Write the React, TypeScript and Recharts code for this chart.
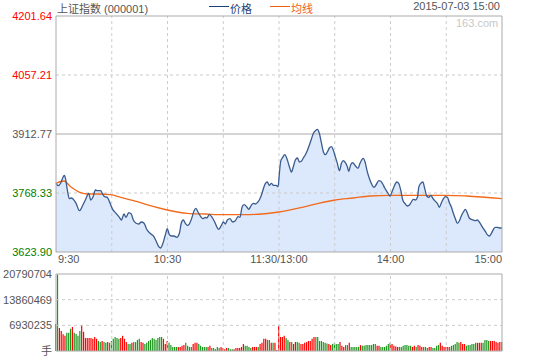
import React from 'react'
import {
  ComposedChart, Area, Line, XAxis, YAxis, ReferenceLine, BarChart, Bar, Cell,
} from 'recharts'

// minutes since 9:30 (lunch break removed, 0..240)
const priceT = [
  0, 1.1, 2.5, 3.9, 4.5, 5.2, 6.1, 7.2, 8.2, 9.3, 10.8, 12.6, 14.4, 16.1, 17.6, 18.7, 20.1, 21.2, 22.3, 24.0,
  25.1, 26.2, 27.6, 29.1, 30.5, 32.3, 34.1, 35.2, 36.6, 37.7, 39.1, 40.5, 41.6, 43.1, 44.5, 45.9, 47.4, 48.8, 50.6, 52.4,
  53.8, 55.3, 56.3, 57.4, 58.8, 59.9, 61.0, 62.1, 63.5, 65.0, 66.4, 67.4, 68.5, 69.6, 70.7, 71.7, 73.2, 74.3, 75.3, 76.4,
  77.9, 79.0, 80.4,
  81.1, 82.5, 84.0, 85.4, 86.5, 87.6, 89.0, 90.1, 91.1, 92.2, 93.6, 95.1, 96.5, 98.0, 99.0, 100.1, 101.2, 102.6, 103.7, 105.1,
  106.2, 107.3, 108.3, 109.4, 110.5, 111.6, 112.7, 113.7, 114.8, 115.9, 117.0, 118.4, 119.5, 120.2, 120.9, 122.0, 123.1, 124.5, 125.6, 126.7,
  127.7, 128.8, 129.9, 131.0, 132.0, 133.1, 134.2, 135.2, 136.3, 137.4, 138.5, 139.6, 140.6, 141.7, 142.8, 143.9, 144.9, 146.0, 147.1, 148.2,
  149.2, 150.3, 151.4, 152.5, 153.6, 154.6, 155.7, 156.8, 157.5, 158.6, 159.7,
  160.4, 161.5, 162.5, 163.6, 164.7, 165.4, 166.5, 167.5, 168.6, 170.1, 171.2, 172.2, 173.7, 174.8, 175.8, 176.9, 178.0, 179.1, 179.8, 180.8,
  181.9, 183.4, 184.4, 185.5, 186.6, 188.0, 189.1, 190.2, 191.2, 192.3, 193.4, 194.5, 195.2, 196.3, 197.4, 198.4, 199.5, 200.6, 201.7, 202.7,
  203.8, 205.2, 206.3, 207.4, 208.5, 209.5, 210.6, 211.7, 212.8, 213.8, 214.9, 216.0, 217.1, 218.1, 219.2, 220.3, 221.4, 222.4, 223.5, 224.6,
  225.7, 226.7, 227.8, 228.9, 230.0, 231.0, 232.1, 233.2, 234.3, 235.4, 236.4, 237.5, 238.6, 240,
]
const price = [
  3792.1, 3786.2, 3792.1, 3808.2, 3811.7, 3801.9, 3775.7, 3754.4, 3756.1, 3752.9, 3743.1, 3725.0, 3738.2, 3754.4, 3767.6, 3751.2, 3761.0, 3775.7, 3774.0, 3774.0,
  3765.9, 3759.3, 3757.8, 3743.1, 3728.4, 3718.6, 3708.8, 3702.2, 3716.9, 3708.8, 3720.1, 3716.9, 3702.2, 3694.2, 3692.4, 3697.3, 3694.2, 3679.5, 3669.7, 3663.1,
  3651.6, 3637.0, 3633.7, 3643.5, 3664.8, 3680.9, 3666.3, 3663.1, 3663.1, 3659.9, 3669.7, 3694.2, 3702.2, 3694.2, 3689.2, 3692.4, 3708.8, 3725.0, 3730.9, 3721.8,
  3710.3, 3705.4, 3708.8,
  3707.1, 3715.2, 3708.8, 3697.3, 3685.8, 3679.5, 3689.2, 3697.3, 3692.4, 3702.2, 3705.4, 3697.3, 3700.5, 3710.3, 3708.8, 3733.3, 3739.7, 3734.8, 3728.4, 3738.2,
  3743.1, 3741.4, 3744.6, 3751.2, 3762.7, 3778.9, 3792.1, 3795.3, 3787.2, 3792.1, 3787.2, 3787.2, 3783.7, 3816.5, 3845.9, 3855.7, 3862.1, 3849.1, 3832.7, 3819.7,
  3832.7, 3849.1, 3854.0, 3844.2, 3845.9, 3854.0, 3862.1, 3871.9, 3885.1, 3899.8, 3914.5, 3920.9, 3924.3, 3914.5, 3891.5, 3868.7, 3862.1, 3868.7, 3878.5, 3881.7,
  3873.6, 3857.2, 3841.0, 3822.9, 3841.0, 3847.4, 3842.5, 3832.7, 3821.4, 3837.6, 3842.5,
  3839.3, 3832.7, 3828.8, 3841.0, 3850.8, 3853.3, 3841.0, 3820.5, 3804.3, 3787.9, 3782.3, 3787.9, 3798.4, 3797.0, 3790.4, 3780.6, 3772.5, 3764.2, 3761.0, 3771.5,
  3783.7, 3795.3, 3792.1, 3775.7, 3751.2, 3741.4, 3736.5, 3738.9, 3746.3, 3752.9, 3751.2, 3757.8, 3782.3, 3792.1, 3795.3, 3779.8, 3761.0, 3757.8, 3762.7, 3756.1,
  3749.5, 3743.1, 3733.3, 3744.6, 3754.4, 3759.3, 3757.8, 3744.6, 3733.3, 3718.6, 3705.4, 3694.2, 3700.5, 3712.0, 3721.8, 3728.4, 3718.6, 3707.1, 3703.9, 3702.2,
  3700.5, 3702.2, 3697.3, 3689.2, 3680.9, 3674.6, 3666.3, 3663.1, 3669.7, 3679.5, 3684.4, 3684.4, 3682.7, 3682.7,
]

const avgT = [0, 4.3, 7.9, 13.3, 16.9, 22.3, 29.4, 34.8, 43.8, 52.7, 59.9, 70.7, 80.4, 89.3, 100.1, 110.9, 119.9, 132.4, 141.4, 150.3, 160.0, 169.0, 179.8, 194.1, 210.3, 221.0, 240]
const avg = [3792.1, 3797.7, 3783.7, 3769.1, 3765.9, 3765.9, 3764.2, 3757.8, 3747.0, 3734.8, 3726.7, 3718.6, 3716.9, 3715.2, 3715.2, 3716.9, 3721.8, 3733.3, 3743.1, 3751.2, 3756.1, 3761.0, 3762.7, 3762.7, 3762.7, 3761.0, 3754.4]

// volume per minute, millions of 手
const vol = [
  7.3, 20.6, 6.2, 5.4, 4.5, 4.1, 4.9, 4.9, 6.0, 6.5, 4.9, 4.6, 4.1, 5.4, 7.05, 5.2, 3.5, 3.5, 3.5, 3.5,
  3.3, 3.8, 3.3, 2.7, 2.4, 2.7, 2.4, 2.2, 2.4, 2.2, 2.7, 3.3, 3.8, 3.5, 3.3, 3.5, 4.1, 3.3, 2.4, 1.9,
  1.9, 2.2, 2.4, 2.4, 3.0, 3.3, 2.4, 2.2, 1.9, 2.2, 2.7, 3.0, 3.5, 3.3, 3.0, 3.5, 3.8, 3.8, 3.3, 1.9,
  2.7, 2.2, 1.6, 1.1, 1.1, 1.1, 1.1, 1.1, 1.4, 1.6, 2.2, 1.4, 1.1, 1.1, 1.9, 2.2, 2.2, 1.9, 1.4, 1.1,
  1.1,
  1.1, 1.1, 1.4, 0.8, 0.8, 0.5, 1.1, 0.8, 1.1, 0.8, 0.5, 0.8, 0.8, 0.5, 0.5, 0.5, 0.8, 0.8, 0.8, 1.1,
  1.9, 1.4, 1.4, 1.1, 0.8, 1.1, 1.1, 1.1, 1.1, 1.9, 2.2, 3.3, 3.3, 3.0, 3.0, 2.2, 2.2, 2.2, 0.3, 7.05,
  3.8, 3.8, 4.1, 3.5, 3.0, 2.4, 2.4, 1.9, 2.4, 2.4, 2.2, 1.9, 1.9, 2.2, 2.4, 2.7, 2.7, 3.3, 3.8, 3.8,
  3.8, 2.7, 2.7, 2.4, 2.2, 2.0, 1.9, 1.6, 1.9, 2.2, 1.9, 1.9, 2.4, 1.4, 1.1, 1.6, 1.6, 2.2, 1.1,
  1.1, 1.1, 1.1, 1.1, 1.6, 1.4, 1.4, 1.6, 1.6, 1.6, 1.6, 1.9, 1.9, 1.4, 1.4, 1.1, 1.1, 1.1, 1.4, 1.9,
  2.2, 1.9, 1.4, 1.2, 1.1, 1.1, 1.1, 1.4, 1.6, 1.6, 1.4, 1.4, 1.1, 1.4, 1.1, 1.6, 1.4, 1.1, 1.1, 1.1,
  0.8, 1.1, 1.1, 0.8, 0.8, 1.4, 1.6, 2.2, 1.4, 1.1, 1.1, 1.1, 1.1, 1.4, 1.6, 1.9, 2.4, 2.2, 2.4, 1.9,
  1.9, 1.4, 1.6, 1.6, 1.9, 1.9, 2.2, 2.2, 2.2, 2.2, 2.2, 3.0, 3.0, 2.7, 2.7, 2.7, 2.7, 2.4, 2.2, 2.4,
  2.4,
]
// r = up minute, g = down minute
const volDir =
  'ggrrrrgggr' + 'ggggrrrrrr' + 'rrrggrggrg' + 'gggggrrrrg' + 'grggggrrgg' + 'ggggggggrr' + 'rgggggrrrr' + 'ggggrrrggg' + 'g' +
  'grrgggggrr' + 'rrgggrrrrr' + 'rggggrrrgr' + 'rrrggrgrrr' +
  'rrrggrgrrg' + 'grrrrrrrrg' + 'ggggggrrgg' + 'ggrrrggrg' +
  'ggggrggggg' + 'gggrrggggg' + 'rrrrrggggg' + 'ggrrgrrrgg' + 'grrggggrrr' + 'rrggggggrr' + 'rggggggrrr' + 'ggggrrrrrr' + 'g'

const priceTicks = [3623.90, 3768.33, 3912.77, 4057.21, 4201.64]
const pctLabels = ['7.38%', '3.69%', '0', '3.69%', '7.38%']
const tickColors = ['#008000', '#008000', '#555555', '#ff0000', '#ff0000']
const volTicks = [0, 6930235, 13860469, 20790704]
const volLabels = ['手', '6930235', '13860469', '20790704']
const timeTicks = [0, 60, 120, 180, 240]
const timeLabels = ['9:30', '10:30', '11:30/13:00', '14:00', '15:00']
const gridTimes = [30, 60, 90, 120, 150, 180, 210]

const FONT = '"Liberation Sans", Arial, "Noto Sans CJK SC", sans-serif'
const BORDER = '#aaaaaa'
const DASH = '#cccccc'

const buildPriceRows = () => {
  const rows = new Map<number, { t: number, price?: number, avg?: number }>()
  priceT.forEach((t, i) => rows.set(t, { ...(rows.get(t) || { t }), price: price[i] }))
  avgT.forEach((t, i) => rows.set(t, { ...(rows.get(t) || { t }), avg: avg[i] }))
  return Array.from(rows.values()).sort((a, b) => a.t - b.t)
}
const priceRows = buildPriceRows()
const volRows = vol.map((v, i) => ({ t: i, v: Math.round(v * 1e6) }))

const LeftTick = (props: any) => {
  const i = priceTicks.indexOf(props.payload.value)
  return (
    <text x={props.x} y={props.y} dy="0.35em" textAnchor="end" fontSize={11} fontFamily={FONT} fill={tickColors[i]}>
      {props.payload.value.toFixed(2)}
    </text>
  )
}
const RightTick = (props: any) => {
  const i = priceTicks.indexOf(props.payload.value)
  return (
    <text x={props.x} y={props.y} dy="0.35em" textAnchor="start" fontSize={11} fontFamily={FONT} fill={tickColors[i]}>
      {pctLabels[i]}
    </text>
  )
}
const TimeTick = (props: any) => {
  const i = timeTicks.indexOf(props.payload.value)
  const anchor = i === 0 ? 'start' : i === timeTicks.length - 1 ? 'end' : 'middle'
  return (
    <text x={props.x + (i === 0 ? 2 : 0)} y={props.y} dy="0.71em" textAnchor={anchor} fontSize={11} fontFamily={FONT} fill="#555555">
      {timeLabels[i]}
    </text>
  )
}
const VolTick = (props: any) => {
  const i = volTicks.indexOf(props.payload.value)
  return (
    <text x={props.x} y={props.y} dy="0.35em" textAnchor="end" fontSize={11} fontFamily={FONT} fill="#555555">
      {volLabels[i]}
    </text>
  )
}

const Header = () => (
  <div style={{ position: 'absolute', left: 0, top: 0, width: 540, height: 16, fontSize: 11, color: '#555', fontFamily: FONT }}>
    <span style={{ position: 'absolute', left: 57, top: 0 }}>上证指数 (000001)</span>
    <span style={{ position: 'absolute', left: 209, top: 6, width: 20, height: 1, background: '#1f3f78' }} />
    <span style={{ position: 'absolute', left: 230, top: 0, color: '#1f3f78' }}>价格</span>
    <span style={{ position: 'absolute', left: 270, top: 6, width: 20, height: 1, background: '#f06010' }} />
    <span style={{ position: 'absolute', left: 291, top: 0, color: '#f06010' }}>均线</span>
    <span style={{ position: 'absolute', right: 40, top: 0 }}>2015-07-03 15:00</span>
    <span style={{ position: 'absolute', left: 456, top: 17, color: '#c8c8c8' }}>163.com</span>
  </div>
)

const App = () => {
  return (
    <div style={{ position: 'absolute', left: 0, top: 0, width: 540, height: 360, background: '#fff', fontFamily: FONT }}>
      <div style={{ position: 'absolute', left: 0, top: 0 }}>
        <ComposedChart width={540} height={270} data={priceRows} margin={{ top: 16, right: 0, bottom: 0, left: 0 }}>
          <XAxis
            dataKey="t" type="number" domain={[0, 240]} ticks={timeTicks} interval={0}
            tick={<TimeTick />} tickLine={false} tickSize={0} tickMargin={3} height={18}
            axisLine={{ stroke: BORDER }}
          />
          <YAxis
            yAxisId="l" orientation="left" width={56} type="number" domain={[3623.90, 4201.64]}
            ticks={priceTicks} interval={0} tick={<LeftTick />} tickLine={false} tickSize={0} tickMargin={4}
            axisLine={{ stroke: BORDER }}
          />
          <YAxis
            yAxisId="r" orientation="right" width={38} type="number" domain={[3623.90, 4201.64]}
            ticks={priceTicks} interval={0} tick={<RightTick />} tickLine={false} tickSize={0} tickMargin={4}
            axisLine={{ stroke: BORDER }}
          />
          <Area
            yAxisId="l" dataKey="price" type="monotone" connectNulls stroke="none" fill="#dce8fb" fillOpacity={1}
            dot={false} activeDot={false} isAnimationActive={false}
          />
          {gridTimes.map((t) => (
            <ReferenceLine key={t} yAxisId="l" x={t} stroke={DASH} strokeDasharray="3 3" />
          ))}
          <ReferenceLine yAxisId="l" y={4057.21} stroke={DASH} strokeDasharray="3 3" />
          <ReferenceLine yAxisId="l" y={3768.33} stroke={DASH} strokeDasharray="3 3" />
          <ReferenceLine yAxisId="l" y={3912.77} stroke={BORDER} />
          <ReferenceLine yAxisId="l" y={4201.64} stroke={BORDER} />
          <Line
            yAxisId="l" dataKey="avg" type="monotone" connectNulls stroke="#f26a1b" strokeWidth={1.3}
            dot={false} activeDot={false} isAnimationActive={false}
          />
          <Line
            yAxisId="l" dataKey="price" type="monotone" connectNulls stroke="#3a5b8e" strokeWidth={1.3}
            dot={false} activeDot={false} isAnimationActive={false}
          />
        </ComposedChart>
      </div>
      <div style={{ position: 'absolute', left: 0, top: 264 }}>
        <BarChart width={540} height={96} data={volRows} margin={{ top: 10, right: 0, bottom: 9, left: 0 }}>
          <XAxis dataKey="t" type="number" domain={[0, 240]} hide />
          <YAxis
            yAxisId="l" orientation="left" width={56} type="number" domain={[0, 20790704]}
            ticks={volTicks} interval={0} tick={<VolTick />} tickLine={false} tickSize={0} tickMargin={4}
            axisLine={{ stroke: BORDER }}
          />
          <YAxis
            yAxisId="r" orientation="right" width={38} type="number" domain={[0, 20790704]}
            tick={false} tickLine={false} axisLine={{ stroke: BORDER }}
          />
          {gridTimes.map((t) => (
            <ReferenceLine key={t} yAxisId="l" x={t} stroke={DASH} strokeDasharray="3 3" />
          ))}
          <ReferenceLine yAxisId="l" y={6930235} stroke={DASH} strokeDasharray="3 3" />
          <ReferenceLine yAxisId="l" y={13860469} stroke={DASH} strokeDasharray="3 3" />
          <ReferenceLine yAxisId="l" y={20790704} stroke={BORDER} />
          <Bar yAxisId="l" dataKey="v" barSize={1.2} isAnimationActive={false}>
            {volRows.map((r, i) => (
              <Cell key={i} fill={volDir[i] === 'r' ? '#ff0000' : '#1f961f'} />
            ))}
          </Bar>
          <ReferenceLine yAxisId="l" y={0} stroke={BORDER} />
        </BarChart>
      </div>
      <Header />
    </div>
  )
}

export default App
